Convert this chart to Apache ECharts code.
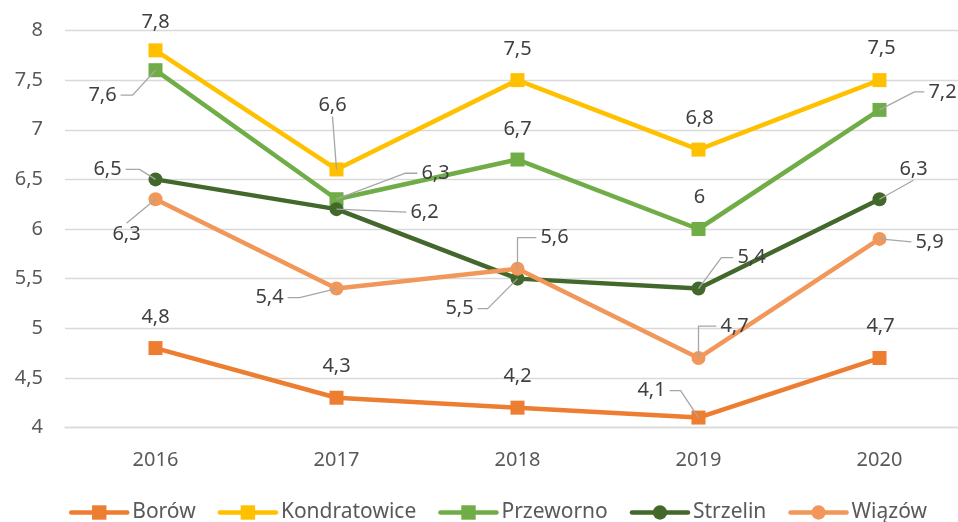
<!DOCTYPE html>
<html>
<head>
<meta charset="utf-8">
<script src="https://cdn.jsdelivr.net/npm/echarts@6/dist/echarts.min.js"></script>
<style>
  html, body { margin: 0; padding: 0; background: #fff; }
  #chart { width: 958px; height: 522px; }
</style>
</head>
<body>
<div id="chart"></div>
<script>
// dane
var years = ["2016", "2017", "2018", "2019", "2020"];
var borow = [4.8, 4.3, 4.2, 4.1, 4.7];
var kondratowice = [7.8, 6.6, 7.5, 6.8, 7.5];
var przeworno = [7.6, 6.3, 6.7, 6.0, 7.2];
var strzelin = [6.5, 6.2, 5.5, 5.4, 6.3];
var wiazow = [6.3, 5.4, 5.6, 4.7, 5.9];

// przesuniecia etykiet wzgledem punktu (jak w Excelu)
var offsets = [
  [[0, -31], [0, -31], [0, -31], [-47, -27], [1, -32]], // Borów
  [[0, -28], [-4, -64], [0, -31], [1, -31], [2, -32]], // Kondratowice
  [[-53, 25], [99, -26], [0, -30], [1, -32], [63, -18]], // Przeworno
  [[-48, -10], [88, 3], [-58, 30], [53, -31], [34, -30]], // Strzelin
  [[-29, 35], [-67, 9], [37, -31], [36, -32], [50, 3]], // Wiązów
];
// linie odniesienia: [strona etykiety, dlugosc odcinka] ("e" = lamana pod katem prostym)
var leaders = [
  [null, null, null, ["r", 11], null],
  [null, ["b", 0], null, null, null],
  [["r", 12], ["l", 12], null, null, ["l", 10]],
  [["r", 14], ["l", 0], ["r", 10], ["l", 12], ["b", 0]],
  [["t", 0], ["r", 12], ["l", "e"], ["l", "e"], ["l", 0]],
];
var allSeries = [borow, kondratowice, przeworno, strzelin, wiazow];

var FONT = "Noto Sans";

function comma(v) {
  return String(v).replace(".", ",");
}

function makeSeries(name, values, color, symbol) {
  return {
    name: name,
    type: "line",
    data: values,
    symbol: symbol,
    symbolSize: 14,
    z: 2,
    lineStyle: { color: color, width: 4.5 },
    itemStyle: { color: color, borderWidth: 0 },
    label: {
      show: true,
      position: "inside",
      color: "#404040",
      fontFamily: FONT,
      fontSize: 20,
      formatter: function (p) {
        return comma(p.value);
      },
    },
    labelLayout: function (p) {
      var o = offsets[p.seriesIndex][p.dataIndex];
      return {
        x: p.rect.x + p.rect.width / 2 + o[0],
        y: p.rect.y + p.rect.height / 2 + o[1],
        align: "center",
        verticalAlign: "middle",
      };
    },
  };
}

var myChart = echarts.init(document.getElementById("chart"));
myChart.setOption({
  backgroundColor: "#fff",
  animation: false,
  grid: {
    left: 65,
    top: 30.5,
    width: 905,
    height: 397,
    outerBoundsMode: "none",
  },
  legend: {
    left: 69,
    top: 502,
    padding: 0,
    itemWidth: 56,
    itemHeight: 18,
    itemGap: 22,
    textStyle: { color: "#595959", fontSize: 21, fontFamily: FONT },
    lineStyle: { width: 4.5, cap: "round" },
    data: ["Borów", "Kondratowice", "Przeworno", "Strzelin", "Wiązów"],
  },
  xAxis: {
    type: "category",
    data: years,
    axisLine: { lineStyle: { color: "#D9D9D9", width: 1.3 } },
    axisTick: { show: false },
    axisLabel: {
      color: "#595959",
      fontSize: 20,
      fontFamily: FONT,
      margin: 23,
    },
  },
  yAxis: {
    type: "value",
    min: 4,
    max: 8,
    interval: 0.5,
    axisLine: { show: false },
    axisTick: { show: false },
    splitLine: { lineStyle: { color: "#D9D9D9", width: 1.3 } },
    axisLabel: {
      color: "#595959",
      fontSize: 20,
      fontFamily: FONT,
      margin: 22,
      formatter: function (v) {
        return comma(v);
      },
    },
  },
  series: [
    makeSeries("Borów", borow, "#ED7D31", "rect"),
    makeSeries("Kondratowice", kondratowice, "#FFC000", "rect"),
    makeSeries("Przeworno", przeworno, "#70AD47", "rect"),
    makeSeries("Strzelin", strzelin, "#43682B", "circle"),
    makeSeries("Wiązów", wiazow, "#F1975A", "circle"),
  ],
});

// linie odniesienia etykiet liczone z pozycji punktow na osiach
var ctx = document.createElement("canvas").getContext("2d");
ctx.font = "20px '" + FONT + "'";
var guides = [];
allSeries.forEach(function (values, k) {
  values.forEach(function (v, i) {
    var spec = leaders[k][i];
    if (!spec) return;
    var p = myChart.convertToPixel({ seriesIndex: k }, [i, v]);
    var o = offsets[k][i];
    var cx = p[0] + o[0];
    var cy = p[1] + o[1];
    var hw = ctx.measureText(comma(v)).width / 2 + 4;
    var hh = 11;
    var side = spec[0];
    var stub = spec[1];
    var a, s;
    if (side === "r" || side === "l") {
      var sign = side === "r" ? 1 : -1;
      a = [cx + sign * hw, cy];
      s = stub === "e" ? [p[0], cy] : [a[0] + sign * stub, cy];
    } else {
      var sg = side === "b" ? 1 : -1;
      a = [cx, cy + sg * hh];
      s = [cx, a[1] + sg * stub];
    }
    guides.push({
      type: "polyline",
      z: 100,
      silent: true,
      shape: { points: [p, s, a] },
      style: { stroke: "#A6A6A6", lineWidth: 1.3, fill: null },
    });
  });
});
myChart.setOption({ graphic: guides });
</script>
</body>
</html>
